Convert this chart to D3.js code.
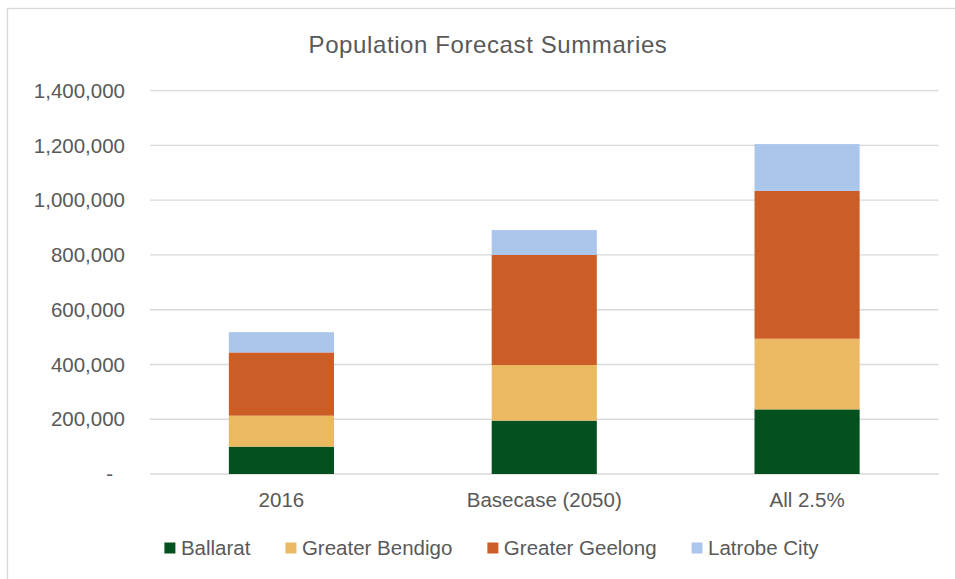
<!DOCTYPE html>
<html>
<head>
<meta charset="utf-8">
<script src="https://cdn.jsdelivr.net/npm/d3@7"></script>
<style>
  html, body { margin: 0; padding: 0; background: #fff; }
  svg { display: block; font-family: "Liberation Sans", Arial, sans-serif; }
</style>
</head>
<body>
<svg id="chart" width="955" height="579"></svg>
<script>
const categories = ["2016", "Basecase (2050)", "All 2.5%"];
const seriesNames = ["Ballarat", "Greater Bendigo", "Greater Geelong", "Latrobe City"];
const ballarat = [100000, 195000, 236000];
const bendigo = [113000, 203000, 258000];
const geelong = [231000, 402000, 540000];
const latrobe = [74000, 91000, 171000];
const yTicks = [0, 200000, 400000, 600000, 800000, 1000000, 1200000, 1400000];
const colors = ["#05501F", "#EBB962", "#CB5D27", "#ABC5EB"];
const title = "Population Forecast Summaries";

const seriesValues = [ballarat, bendigo, geelong, latrobe];
const rows = categories.map((c, i) => {
  const r = { category: c };
  seriesNames.forEach((s, j) => { r[s] = seriesValues[j][i]; });
  return r;
});

const svg = d3.select("#chart");
const margin = { left: 150, right: 955 - 938.5, top: 90.7, bottom: 579 - 474 };
const W = 955, H = 579;

// chart border
svg.append("rect")
  .attr("x", 7.5).attr("y", 8.5)
  .attr("width", 1000).attr("height", 1000)
  .attr("fill", "none").attr("stroke", "#d9d9d9").attr("stroke-width", 1.3);

const x = d3.scaleBand()
  .domain(categories)
  .range([margin.left, W - margin.right])
  .paddingInner(0.6).paddingOuter(0.3);

const y = d3.scaleLinear()
  .domain([0, 1400000])
  .range([H - margin.bottom, margin.top]);

// gridlines
svg.append("g")
  .selectAll("line")
  .data(yTicks)
  .join("line")
  .attr("x1", margin.left).attr("x2", W - margin.right)
  .attr("y1", d => y(d)).attr("y2", d => y(d))
  .attr("stroke", "#d9d9d9").attr("stroke-width", 1.3);

// y axis labels
const fmt = d3.format(",");
const yAxis = d3.axisLeft(y).tickValues(yTicks).tickSize(0).tickPadding(0)
  .tickFormat(d => d === 0 ? "-" : fmt(d));
const yg = svg.append("g").attr("transform", `translate(125,0)`).call(yAxis);
yg.select(".domain").remove();
yg.selectAll("text")
  .attr("fill", "#595959")
  .style("font-size", "20.5px")
  .attr("dx", d => d === 0 ? "-12px" : 0);

// stacked bars
const stack = d3.stack().keys(seriesNames);
const stacked = stack(rows);
svg.append("g")
  .selectAll("g")
  .data(stacked)
  .join("g")
  .attr("fill", (d, i) => colors[i])
  .selectAll("rect")
  .data(d => d)
  .join("rect")
  .attr("x", d => x(d.data.category))
  .attr("width", x.bandwidth())
  .attr("y", d => y(d[1]))
  .attr("height", d => y(d[0]) - y(d[1]));

// x axis labels
const xAxis = d3.axisBottom(x).tickSize(0).tickPadding(0);
const xg = svg.append("g").attr("transform", `translate(0,${H - margin.bottom})`).call(xAxis);
xg.select(".domain").remove();
xg.selectAll("text")
  .attr("fill", "#595959")
  .style("font-size", "20.5px")
  .attr("dy", "0")
  .attr("y", 33);

// title
svg.append("text")
  .attr("x", 488).attr("y", 52.5)
  .attr("text-anchor", "middle")
  .attr("fill", "#595959")
  .style("font-size", "24px")
  .style("letter-spacing", "0.6px")
  .text(title);

// legend
const legend = svg.append("g");
const items = legend.selectAll("g")
  .data(seriesNames)
  .join("g");
items.append("rect")
  .attr("width", 11).attr("height", 11)
  .attr("y", 542.5)
  .attr("fill", (d, i) => colors[i]);
items.append("text")
  .attr("x", 16.5).attr("y", 555)
  .attr("fill", "#595959")
  .style("font-size", "20.5px")
  .text(d => d);
let cx = 0;
const gap = 35;
const offsets = [];
items.each(function() {
  const w = 16.5 + d3.select(this).select("text").node().getComputedTextLength();
  offsets.push(cx);
  cx += w + gap;
});
const total = cx - gap;
const startX = 491.5 - total / 2;
items.attr("transform", (d, i) => `translate(${startX + offsets[i]},0)`);
</script>
</body>
</html>
